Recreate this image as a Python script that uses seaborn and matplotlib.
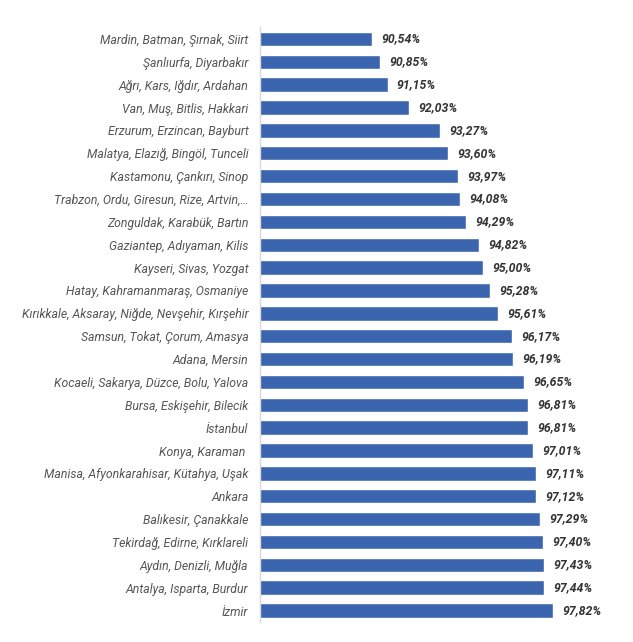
import matplotlib
matplotlib.use("Agg")
import matplotlib.pyplot as plt
import seaborn as sns
import pandas as pd

regions = [
    "Mardin, Batman, Şırnak, Siirt",
    "Şanlıurfa, Diyarbakır",
    "Ağrı, Kars, Iğdır, Ardahan",
    "Van, Muş, Bitlis, Hakkari",
    "Erzurum, Erzincan, Bayburt",
    "Malatya, Elazığ, Bingöl, Tunceli",
    "Kastamonu, Çankırı, Sinop",
    "Trabzon, Ordu, Giresun, Rize, Artvin,…",
    "Zonguldak, Karabük, Bartın",
    "Gaziantep, Adıyaman, Kilis",
    "Kayseri, Sivas, Yozgat",
    "Hatay, Kahramanmaraş, Osmaniye",
    "Kırıkkale, Aksaray, Niğde, Nevşehir, Kırşehir",
    "Samsun, Tokat, Çorum, Amasya",
    "Adana, Mersin",
    "Kocaeli, Sakarya, Düzce, Bolu, Yalova",
    "Bursa, Eskişehir, Bilecik",
    "İstanbul",
    "Konya, Karaman ",
    "Manisa, Afyonkarahisar, Kütahya, Uşak",
    "Ankara",
    "Balıkesir, Çanakkale",
    "Tekirdağ, Edirne, Kırklareli",
    "Aydın, Denizli, Muğla",
    "Antalya, Isparta, Burdur",
    "İzmir",
]
values = [90.54, 90.85, 91.15, 92.03, 93.27, 93.60, 93.97, 94.08, 94.29, 94.82,
          95.00, 95.28, 95.61, 96.17, 96.19, 96.65, 96.81, 96.81, 97.01, 97.11,
          97.12, 97.29, 97.40, 97.43, 97.44, 97.82]

df = pd.DataFrame({"region": regions, "value": values})

sns.set_theme(style="white")
plt.rcParams["font.family"] = ["Roboto", "DejaVu Sans"]

fig = plt.figure(figsize=(6.33, 6.42), dpi=100)
ax = fig.add_axes([259.5 / 633, 1 - 622 / 642, (607.5 - 259.5) / 633, (622 - 27.5) / 642])

sns.barplot(data=df, x="value", y="region", orient="h", color="#3c65af",
            saturation=1, width=0.63, ax=ax)

ax.set_xlim(86, 100)
ax.set_xlabel("")
ax.set_ylabel("")
ax.set_xticks([])
for s in ["top", "right", "bottom"]:
    ax.spines[s].set_visible(False)
ax.spines["left"].set_color("#d9d9d9")
ax.spines["left"].set_linewidth(1.0)

ax.tick_params(axis="y", length=0, pad=8)
for lbl in ax.get_yticklabels():
    lbl.set_fontstyle("italic")
    lbl.set_fontsize(8.8)
    lbl.set_color("#555555")

for i, v in enumerate(values):
    ax.text(v + 0.37, i, f"{v:.2f}".replace(".", ",") + "%", va="center", ha="left",
            fontsize=8.8, fontstyle="italic", fontweight="bold", color="#333333")

fig.savefig("out.png", dpi=100)
